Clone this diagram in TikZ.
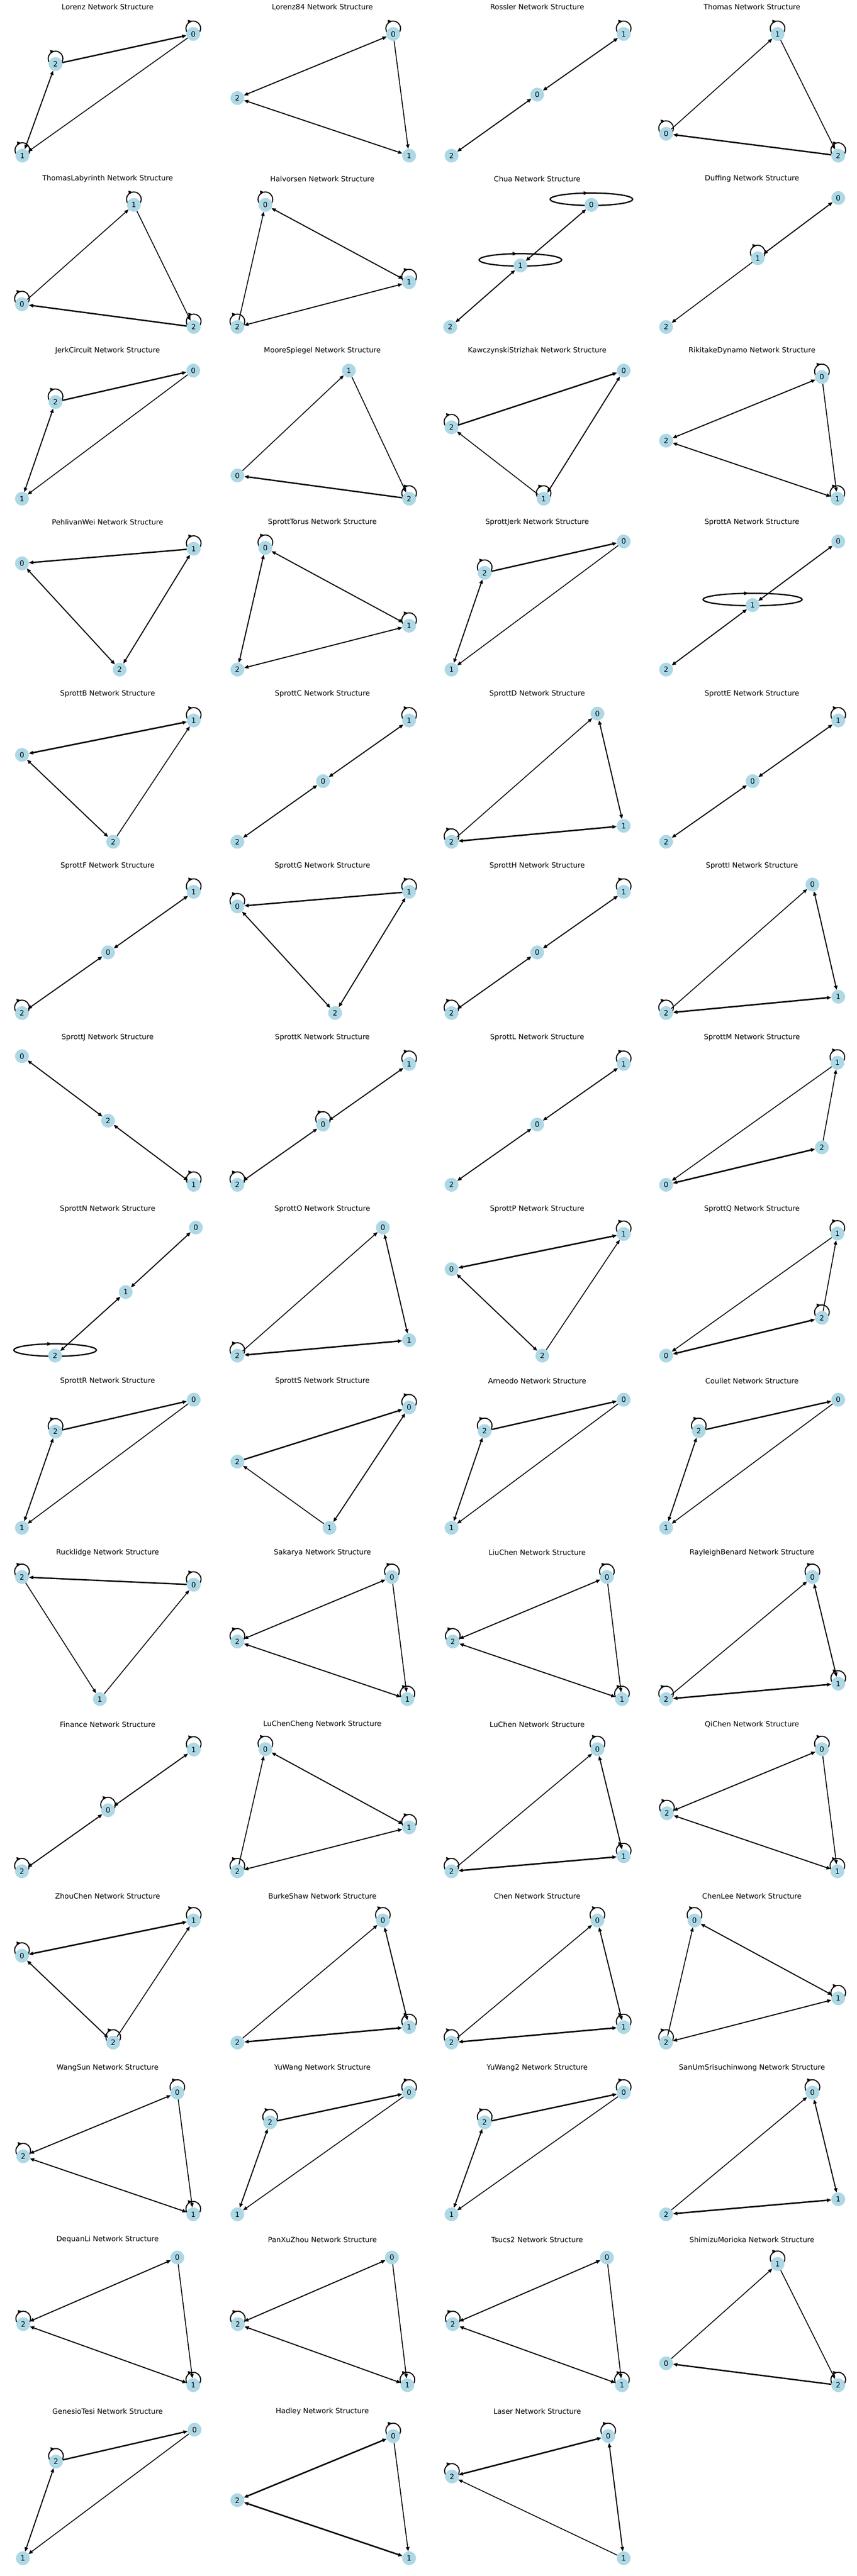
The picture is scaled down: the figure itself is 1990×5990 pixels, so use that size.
\documentclass[tikz,border=0pt]{standalone}
\usepackage{fontspec}
\setmainfont{DejaVu Sans}
\usepackage{tikz}
\usetikzlibrary{arrows.meta}
\usetikzlibrary{decorations.markings}
\definecolor{nodeblue}{RGB}{173,216,230}
\pgfdeclarelayer{back}
\pgfsetlayers{back,main}

% one panel: column, row, system, places of 0/1/2, edges, loops
\newcommand{\panel}[8]{%
  \begin{scope}[shift={(#1*497.5,#2*399.33)}]
    \node[ttl] (#3t) at (250+#1*1.5,16.5) {#3 Network Structure};
    \node[vtx] (#30) at (#4) {0};
    \node[vtx] (#31) at (#5) {1};
    \node[vtx] (#32) at (#6) {2};
  \end{scope}
  \begin{pgfonlayer}{back}
    \foreach \a/\b/\s in {#7}
    \draw[\s] (#3\a) -- (#3\b);
    \foreach \a/\s in {#8}
    \draw[loopline,\s] (#3\a.center) ++(0,-13) ellipse;
  \end{pgfonlayer}}

\begin{document}
\begin{tikzpicture}[x=1pt,y=-1pt,line cap=butt,line join=round,>={Triangle[length=10pt,width=8pt]},
  vtx/.style={circle,fill=nodeblue,minimum size=32pt,inner sep=0pt,font=\fontsize{16.7}{20}\selectfont},
  ttl/.style={font=\fontsize{16.7}{20}\selectfont},
  one/.style={->,line width=2pt},
  oneh/.style={->,line width=3.2pt},
  two/.style={<->,line width=2.4pt},
  twoh/.style={<->,line width=3.4pt},
  loopline/.style={line width=2.4pt,postaction={decorate},
    decoration={markings,mark=at position 0.73 with {\arrow{Triangle[length=10pt,width=8pt]}}}},
  sl/.style={x radius=17,y radius=17},
  bl/.style={x radius=96,y radius=14.5,line width=3pt},
  blw/.style={x radius=115,y radius=14.5,line width=3pt}]
  \useasboundingbox (0,0) rectangle (1990,5990);
  % row 1
  \panel{0}{0}{Lorenz}{449,79}{52,362}{129,149}{2/0/oneh,0/1/one,1/2/two}{0/sl,1/sl,2/sl}
  \panel{1}{0}{Lorenz84}{416,79}{453,362}{54,228}{0/2/two,0/1/one,2/1/two}{0/sl}
  \panel{2}{0}{Rossler}{253,220}{454,79}{54,362}{1/0/two,0/2/two}{1/sl}
  \panel{3}{0}{Thomas}{55,311}{314,79}{455,362}{0/1/one,1/2/one,2/0/oneh}{0/sl,1/sl,2/sl}
  % row 2
  \panel{0}{1}{ThomasLabyrinth}{51,308}{311,77}{450,361}{0/1/one,1/2/one,2/0/oneh}{0/sl,1/sl,2/sl}
  \panel{1}{1}{Halvorsen}{119,77}{453,257}{54,361}{0/1/two,2/0/one,2/1/two}{0/sl,1/sl,2/sl}
  \panel{2}{1}{Chua}{379,77}{214,218}{51,361}{0/1/two,1/2/two}{0/bl,1/bl}
  \panel{3}{1}{Duffing}{455,61}{268,201}{55,361}{1/0/two,1/2/one}{1/sl}
  % row 3
  \panel{0}{2}{JerkCircuit}{449,63}{51,361}{129,136}{2/0/oneh,0/1/one,1/2/two}{2/sl}
  \panel{1}{2}{MooreSpiegel}{54,307}{313,63}{453,361}{0/1/one,1/2/one,2/0/oneh}{2/sl}
  \panel{2}{2}{KawczynskiStrizhak}{454,63}{268,361}{54,195}{2/0/oneh,1/0/two,1/2/one}{2/sl,1/sl}
  \panel{3}{2}{RikitakeDynamo}{417,78}{453,361}{55,226}{0/2/two,0/1/one,2/1/two}{0/sl,1/sl}
  % row 4
  \panel{0}{3}{PehlivanWei}{51,112}{450,78}{278,359}{1/0/oneh,0/2/two,2/1/two}{1/sl}
  \panel{1}{3}{SprottTorus}{119,76}{453,257}{54,359}{0/1/two,0/2/two,2/1/two}{0/sl,1/sl}
  \panel{2}{3}{SprottJerk}{454,61}{54,359}{131,134}{2/0/oneh,0/1/one,1/2/two}{2/sl}
  \panel{3}{3}{SprottA}{455,61}{256,209}{55,359}{0/1/two,1/2/two}{1/blw}
  % row 5
  \panel{0}{4}{SprottB}{51,158}{450,78}{263,360}{1/0/twoh,0/2/two,2/1/one}{1/sl}
  \panel{1}{4}{SprottC}{253,219}{453,78}{54,360}{1/0/two,0/2/two}{1/sl}
  \panel{2}{4}{SprottD}{393,62}{454,323}{54,360}{2/0/one,0/1/two,2/1/twoh}{2/sl}
  \panel{3}{4}{SprottE}{256,219}{455,78}{55,360}{1/0/two,0/2/two}{1/sl}
  % row 6
  \panel{0}{5}{SprottF}{251,218}{450,77}{51,359}{1/0/two,0/2/two}{1/sl,2/sl}
  \panel{1}{5}{SprottG}{54,111}{453,77}{281,359}{1/0/oneh,0/2/two,2/1/two}{1/sl,0/sl}
  \panel{2}{5}{SprottH}{253,218}{454,77}{54,359}{1/0/two,0/2/two}{1/sl,2/sl}
  \panel{3}{5}{SprottI}{395,60}{455,321}{55,359}{2/0/one,0/1/two,2/1/twoh}{2/sl}
  % row 7
  \panel{0}{6}{SprottJ}{51,60}{450,359}{251,210}{0/2/two,2/1/two}{1/sl}
  \panel{1}{6}{SprottK}{253,219}{453,78}{54,359}{1/0/two,0/2/two}{1/sl,0/sl,2/sl}
  \panel{2}{6}{SprottL}{253,219}{454,78}{54,359}{1/0/two,0/2/two}{1/sl}
  \panel{3}{6}{SprottM}{55,359}{453,75}{417,272}{1/0/one,2/1/one,0/2/twoh}{1/sl}
  % row 8
  \panel{0}{7}{SprottN}{455,59}{292,209}{128,357}{0/1/two,1/2/two}{2/bl}
  \panel{1}{7}{SprottO}{392,59}{453,321}{54,357}{2/0/one,0/1/two,2/1/twoh}{2/sl}
  \panel{2}{7}{SprottP}{54,156}{454,74}{265,357}{1/0/twoh,0/2/two,2/1/one}{1/sl}
  \panel{3}{7}{SprottQ}{55,357}{453,73}{417,269}{1/0/one,2/1/one,0/2/twoh}{1/sl,2/sl}
  % row 9
  \panel{0}{8}{SprottR}{450,60}{51,358}{129,134}{2/0/oneh,0/1/one,1/2/two}{2/sl}
  \panel{1}{8}{SprottS}{453,78}{268,358}{54,204}{2/0/oneh,1/0/two,1/2/one}{0/sl}
  \panel{2}{8}{Arneodo}{454,60}{54,358}{131,133}{2/0/oneh,0/1/one,1/2/two}{2/sl}
  \panel{3}{8}{Coullet}{455,60}{55,358}{131,133}{2/0/oneh,0/1/one,1/2/two}{2/sl}
  % row 10
  \panel{0}{9}{Rucklidge}{450,91}{232,357}{51,73}{0/2/oneh,2/1/one,1/0/one}{2/sl,0/sl}
  \panel{1}{9}{Sakarya}{413,73}{449,357}{54,223}{0/2/two,0/1/one,2/1/two}{0/sl,2/sl,1/sl}
  \panel{2}{9}{LiuChen}{415,73}{450,357}{57,223}{0/2/two,0/1/one,2/1/two}{0/sl,2/sl,1/sl}
  \panel{3}{9}{RayleighBenard}{395,73}{455,321}{55,357}{2/0/one,0/1/two,2/1/twoh}{0/sl,1/sl,2/sl}
  % row 11
  \panel{0}{10}{Finance}{251,216}{450,75}{51,358}{1/0/two,0/2/two}{1/sl,0/sl,2/sl}
  \panel{1}{10}{LuChenCheng}{119,74}{453,256}{54,358}{0/1/two,2/0/one,2/1/two}{0/sl,1/sl,2/sl}
  \panel{2}{10}{LuChen}{393,74}{454,323}{54,358}{2/0/one,0/1/two,2/1/twoh}{0/sl,1/sl,2/sl}
  \panel{3}{10}{QiChen}{417,74}{453,358}{57,223}{0/2/two,0/1/one,2/1/two}{0/sl,2/sl,1/sl}
  % row 12
  \panel{0}{11}{ZhouChen}{51,155}{450,73}{263,357}{1/0/twoh,0/2/two,2/1/one}{1/sl,0/sl,2/sl}
  \panel{1}{11}{BurkeShaw}{392,73}{453,321}{54,357}{2/0/one,0/1/two,2/1/twoh}{0/sl,1/sl}
  \panel{2}{11}{Chen}{393,73}{454,321}{54,357}{2/0/one,0/1/two,2/1/twoh}{0/sl,1/sl,2/sl}
  \panel{3}{11}{ChenLee}{121,73}{455,254}{55,357}{0/1/two,2/0/one,2/1/two}{0/sl,1/sl,2/sl}
  % row 13
  \panel{0}{12}{WangSun}{412,74}{449,357}{54,222}{0/2/two,0/1/one,2/1/two}{0/sl,2/sl,1/sl}
  \panel{1}{12}{YuWang}{453,74}{54,357}{130,143}{2/0/oneh,0/1/one,1/2/two}{0/sl,2/sl}
  \panel{2}{12}{YuWang2}{454,74}{54,357}{131,143}{2/0/oneh,0/1/one,1/2/two}{0/sl,2/sl}
  \panel{3}{12}{SanUmSrisuchinwong}{395,74}{455,322}{55,357}{2/0/one,0/1/two,2/1/twoh}{0/sl}
  % row 14
  \panel{0}{13}{DequanLi}{412,58}{449,355}{54,213}{0/2/two,0/1/one,2/1/two}{2/sl,1/sl}
  \panel{1}{13}{PanXuZhou}{413,58}{449,355}{55,213}{0/2/two,0/1/one,2/1/two}{2/sl,1/sl}
  \panel{2}{13}{Tsucs2}{415,58}{450,355}{57,213}{0/2/two,0/1/one,2/1/two}{2/sl,1/sl}
  \panel{3}{13}{ShimizuMorioka}{55,304}{314,73}{455,355}{0/1/one,1/2/one,2/0/oneh}{1/sl,2/sl}
  % row 15
  \panel{0}{14}{GenesioTesi}{452,59}{53,358}{130,133}{2/0/oneh,0/1/one,1/2/two}{2/sl}
  \panel{1}{14}{Hadley}{416,74}{453,358}{54,223}{0/2/twoh,0/1/one,2/1/twoh}{0/sl}
  \panel{2}{14}{Laser}{418,74}{454,358}{55,168}{0/2/twoh,0/1/two,1/2/one}{0/sl,2/sl}
\end{tikzpicture}
\end{document}
